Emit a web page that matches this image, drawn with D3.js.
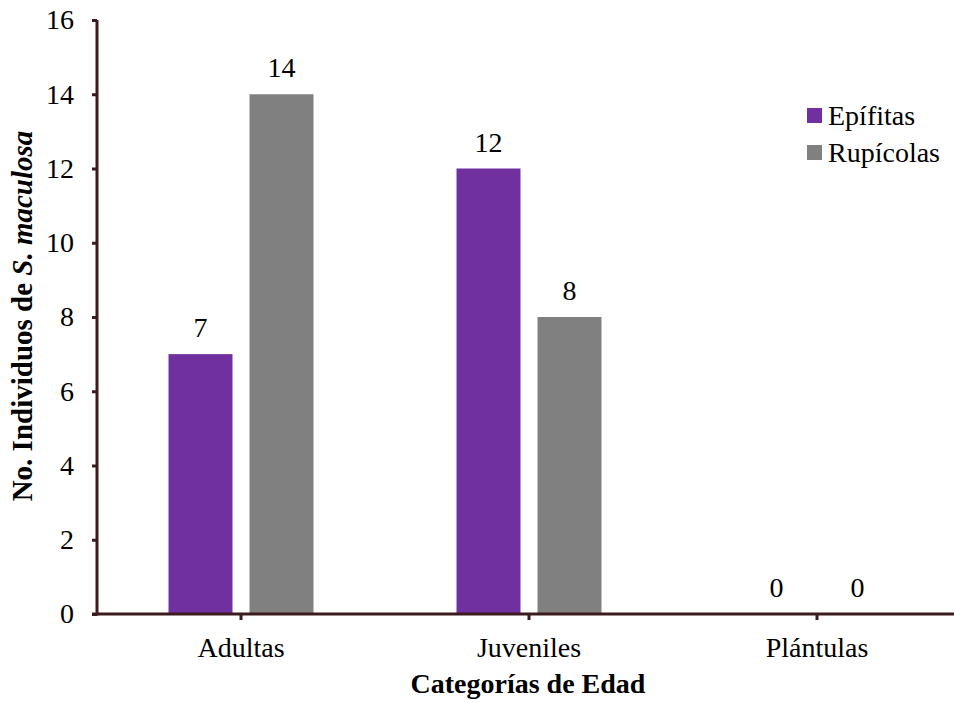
<!DOCTYPE html>
<html>
<head>
<meta charset="utf-8">
<script src="https://cdn.jsdelivr.net/npm/d3@7"></script>
<style>
  html, body { margin: 0; padding: 0; background: #fff; }
  svg { display: block; font-family: "Liberation Serif", "Times New Roman", serif; }
</style>
</head>
<body>
<svg id="chart" width="954" height="703"></svg>
<script>
// Individuals of S. maculosa by age class and habitat
const categories = ["Adultas", "Juveniles", "Plántulas"];
const seriesNames = ["Epífitas", "Rupícolas"];
const epifitas = [7, 12, 0];
const rupicolas = [14, 8, 0];
const yTicks = [0, 2, 4, 6, 8, 10, 12, 14, 16];
const seriesColors = ["#7030A0", "#808080"];

const seriesValues = [epifitas, rupicolas];
const rows = categories.map((c, i) => ({
  category: c,
  values: seriesNames.map((s, j) => ({ series: s, value: seriesValues[j][i], color: seriesColors[j] }))
}));

const svg = d3.select("#chart");
const axisColor = "#3c1a1e";
const fontSize = 28;

const x0 = d3.scaleBand().domain(categories).range([97, 961]).padding(0);
const x1 = d3.scaleBand().domain(seriesNames).range([0, x0.bandwidth()])
  .paddingInner(0.21).paddingOuter(0.883);
const y = d3.scaleLinear().domain([0, 16]).range([614, 20]);

// Bars
const groups = svg.append("g").selectAll("g").data(rows).join("g")
  .attr("transform", d => `translate(${x0(d.category)},0)`);

groups.selectAll("rect").data(d => d.values).join("rect")
  .attr("x", d => x1(d.series))
  .attr("y", d => y(d.value))
  .attr("width", x1.bandwidth())
  .attr("height", d => y(0) - y(d.value))
  .attr("fill", d => d.color);

// Value labels
groups.selectAll("text.val").data(d => d.values).join("text")
  .attr("class", "val")
  .attr("x", d => x1(d.series) + x1.bandwidth() / 2)
  .attr("y", d => y(d.value) - 17)
  .attr("text-anchor", "middle")
  .attr("font-size", fontSize)
  .attr("fill", "#000")
  .text(d => d.value);

// Y axis
const yAxis = svg.append("g")
  .attr("transform", "translate(97,0)")
  .call(d3.axisLeft(y).tickValues(yTicks).tickSize(5).tickPadding(18).tickSizeOuter(0));

// X axis
const xAxis = svg.append("g")
  .attr("transform", `translate(0,${y(0)})`)
  .call(d3.axisBottom(x0).tickSize(6).tickPadding(17).tickSizeOuter(0));

[yAxis, xAxis].forEach(ax => {
  ax.selectAll("path.domain").attr("stroke", axisColor).attr("stroke-width", 3);
  ax.selectAll(".tick line").attr("stroke", axisColor).attr("stroke-width", 3);
  ax.selectAll(".tick text").attr("font-size", fontSize).attr("fill", "#000")
    .attr("font-family", "Liberation Serif, Times New Roman, serif");
});
// extend x axis line slightly left of the y axis
xAxis.select("path.domain").attr("d", `M92,0H961`);
yAxis.select("path.domain").attr("d", `M0,${y(16)}V${y(0) + 1.5}`);

// Axis titles
svg.append("text")
  .attr("x", 528).attr("y", 693)
  .attr("text-anchor", "middle")
  .attr("font-size", fontSize).attr("font-weight", "bold")
  .text("Categorías de Edad");

const yTitle = svg.append("text")
  .attr("transform", "translate(32,316) rotate(-90)")
  .attr("text-anchor", "middle")
  .attr("font-size", 29).attr("font-weight", "bold");
yTitle.append("tspan").text("No. Individuos de ");
yTitle.append("tspan").attr("font-style", "italic").text("S. maculosa");

// Legend
const legend = svg.append("g").attr("transform", "translate(807,108)");
const li = legend.selectAll("g").data(seriesNames).join("g")
  .attr("transform", (d, i) => `translate(0,${i * 37})`);
li.append("rect").attr("width", 15).attr("height", 15)
  .attr("fill", (d, i) => seriesColors[i]);
li.append("text").attr("x", 21).attr("y", 17)
  .attr("font-size", fontSize).text(d => d);
</script>
</body>
</html>
